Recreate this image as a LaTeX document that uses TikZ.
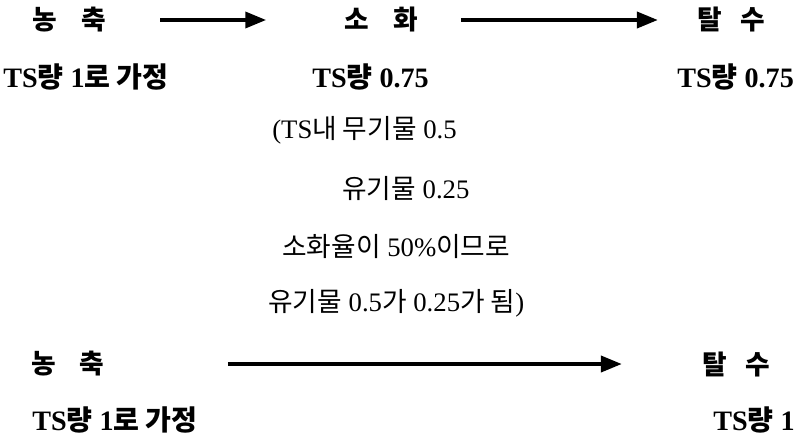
\documentclass[tikz,border=0pt]{standalone}
\usepackage{fontspec}
\setmainfont{Liberation Serif}
\newfontfamily\kr{Noto Sans CJK KR}
\usetikzlibrary{arrows.meta}
\newcommand\K[1]{{\kr #1}}
\begin{document}
\begin{tikzpicture}[x=0.025cm,y=-0.025cm,
  head/.style={inner sep=0pt,font=\kr\bfseries\fontsize{19}{22}\selectfont},
  amount/.style={inner sep=0pt,anchor=west,font=\bfseries\fontsize{20}{23}\selectfont},
  note/.style={inner sep=0pt,anchor=west,font=\fontsize{19}{22}\selectfont},
  flow/.style={line width=2.5pt,-{Triangle[length=0.52cm,width=0.4cm]}}]
\useasboundingbox (0,0) rectangle (800,442);
% top row
\node[head,minimum width=1.875cm] (nc1) at (69.5,20) {농\hspace{0.9em}축};
\node[head,minimum width=1.8cm] (so) at (381,20) {소\hspace{0.9em}화};
\node[head,minimum width=1.45cm] (tal1) at (731,20) {탈\hspace{0.7em}수};
\node[amount] (ts1) at (3,77) {TS\K{량} 1\K{로 가정}};
\node[amount] (ts2) at (312,77) {TS\K{량} 0.75};
\node[amount] (ts3) at (677,77) {TS\K{량} 0.75};
% middle notes
\node[note] (m1) at (272,130) {(TS\K{내 무기물} 0.5};
\node[note] (m2) at (342,188) {\K{유기물} 0.25};
\node[note] (m3) at (282,247) {\K{소화율이} 50\%\K{이므로}};
\node[note] (m4) at (268,303) {\K{유기물} 0.5\K{가} 0.25\K{가 됨})};
% bottom row
\node[head,minimum width=1.8cm] (nc2) at (68,364) {농\hspace{0.9em}축};
\node[head,minimum width=1.3cm] (tal2) at (736,364) {탈\hspace{0.7em}수};
\node[amount] (ts4) at (32,420) {TS\K{량} 1\K{로 가정}};
\node[amount] (ts5) at (713,420) {TS\K{량} 1};
% arrows
\draw[flow,shorten <=1.325cm,shorten >=1.95cm] (nc1) -- (so);
\draw[flow,shorten <=1.075cm,shorten >=0.975cm] (so) -- (tal1);
\draw[flow,shorten <=3.075cm,shorten >=2cm] (nc2) -- (tal2);
\end{tikzpicture}
\end{document}
